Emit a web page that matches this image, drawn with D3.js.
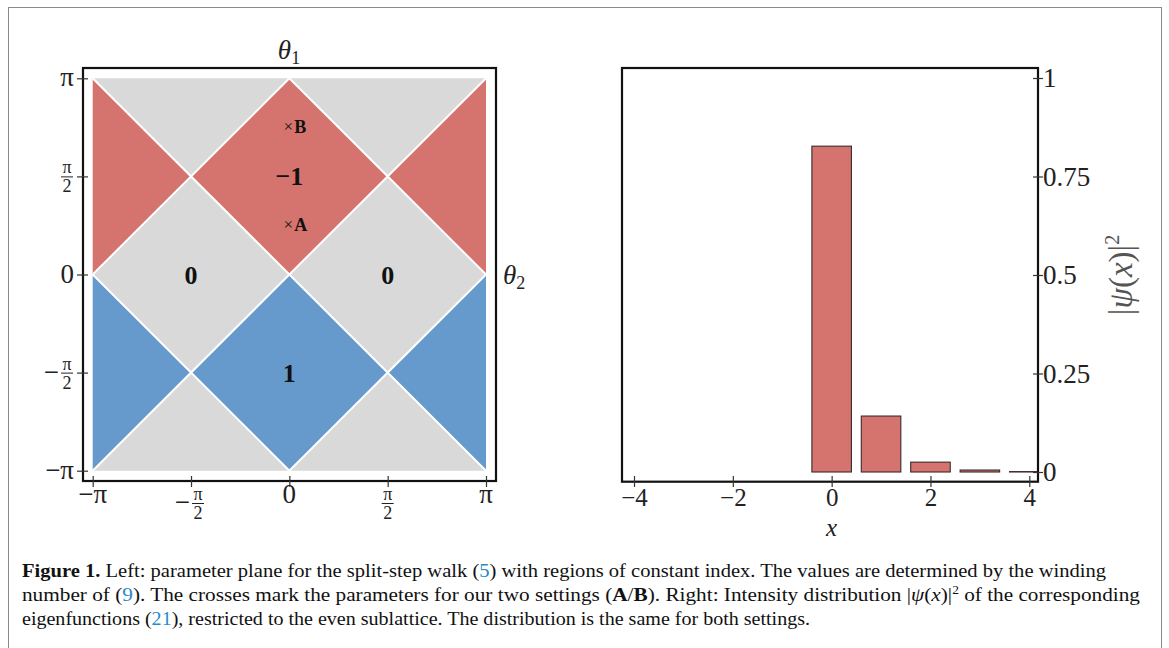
<!DOCTYPE html>
<html>
<head>
<meta charset="utf-8">
<script src="https://cdn.jsdelivr.net/npm/d3@7"></script>
<style>
  body { margin: 0; background: #fff; }
  svg { display: block; font-family: "Liberation Serif", "DejaVu Serif", serif; }
</style>
</head>
<body>
<div id="chart"></div>
<script>
// left panel: regions in units of pi, (theta2, theta1)
const redRegions = [
  [[0, 1], [0.5, 0.5], [0, 0], [-0.5, 0.5]],
  [[-1, 1], [-0.5, 0.5], [-1, 0]],
  [[1, 1], [0.5, 0.5], [1, 0]]
]
const blueRegions = [
  [[0, 0], [0.5, -0.5], [0, -1], [-0.5, -0.5]],
  [[-1, 0], [-0.5, -0.5], [-1, -1]],
  [[1, 0], [0.5, -0.5], [1, -1]]
]
const grayRegions = [
  [[-1, 1], [0, 1], [-0.5, 0.5]],
  [[0, 1], [1, 1], [0.5, 0.5]],
  [[-1, 0], [-0.5, 0.5], [0, 0], [-0.5, -0.5]],
  [[0, 0], [0.5, 0.5], [1, 0], [0.5, -0.5]],
  [[-1, -1], [0, -1], [-0.5, -0.5]],
  [[0, -1], [1, -1], [0.5, -0.5]]
]
const boundaries = [
  [[-1, 1], [1, -1]], [[-1, -1], [1, 1]],
  [[-1, 0], [0, 1]], [[0, 1], [1, 0]],
  [[-1, 0], [0, -1]], [[0, -1], [1, 0]]
]
const indexLabels = [
  {x: -0.5, y: 0, text: "0"},
  {x: 0.5, y: 0, text: "0"},
  {x: 0, y: 0.5, text: "−1"},
  {x: 0, y: -0.5, text: "1"}
]
const settings = [
  {x: 0, y: 0.25, name: "A"},
  {x: 0, y: 0.75, name: "B"}
]
const thetaTicks = [-1, -0.5, 0, 0.5, 1]
const thetaLabels = [["−", "π"], ["−", "π", "2"], ["", "0"], ["", "π", "2"], ["", "π"]]

// right panel: intensity per site
const sites = [0, 1, 2, 3, 4]
const intensity = [0.827, 0.142, 0.025, 0.005, 0.001]
const xTicks = [-4, -2, 0, 2, 4]
const yTicks = [0, 0.25, 0.5, 0.75, 1]

const width = 1169, height = 648
const red = "#d5746f", blue = "#6699cc", gray = "#d9d9d9"
const ink = "#222"

const svg = d3.select("#chart").append("svg")
  .attr("width", width)
  .attr("height", height)

// outer figure border
svg.append("rect")
  .attr("x", 8.5).attr("y", 7.5)
  .attr("width", 1153).attr("height", 660)
  .attr("fill", "none")
  .attr("stroke", "#8a8a8a")

// ---------- left panel ----------
const xL = d3.scaleLinear([-1, 1], [92.7, 486])
const yL = d3.scaleLinear([-1, 1], [470.7, 78.3])
const left = svg.append("g")

const poly = pts => "M" + pts.map(([a, b]) => `${xL(a)},${yL(b)}`).join("L") + "Z"

left.append("g").selectAll("path").data(grayRegions).join("path")
  .attr("d", poly).attr("fill", gray)
left.append("g").selectAll("path").data(redRegions).join("path")
  .attr("d", poly).attr("fill", red)
left.append("g").selectAll("path").data(blueRegions).join("path")
  .attr("d", poly).attr("fill", blue)
left.append("g").selectAll("line").data(boundaries).join("line")
  .attr("x1", d => xL(d[0][0])).attr("y1", d => yL(d[0][1]))
  .attr("x2", d => xL(d[1][0])).attr("y2", d => yL(d[1][1]))
  .attr("stroke", "#fff").attr("stroke-width", 2)

left.append("rect")
  .attr("x", 83).attr("y", 68)
  .attr("width", 413).attr("height", 413)
  .attr("fill", "none").attr("stroke", "#111").attr("stroke-width", 2.2)

// crossing ticks
left.append("g").attr("transform", "translate(0,476)")
  .call(d3.axisBottom(xL).tickValues(thetaTicks).tickSize(11).tickFormat(""))
  .call(g => g.select(".domain").remove())
  .call(g => g.selectAll("line").attr("stroke", "#333").attr("stroke-width", 1.2))
left.append("g").attr("transform", "translate(88,0)")
  .call(d3.axisLeft(yL).tickValues(thetaTicks).tickSize(11).tickFormat(""))
  .call(g => g.select(".domain").remove())
  .call(g => g.selectAll("line").attr("stroke", "#333").attr("stroke-width", 1.2))

// pi labels, fractions stacked as pi over 2
function piLabel(g, lab, cx, cy, anchor) {
  const [sign, num, den] = lab
  if (!den) {
    g.append("text").attr("x", cx).attr("y", cy + 9)
      .attr("text-anchor", anchor).attr("font-size", 27).attr("fill", ink)
      .text(sign + num)
    return
  }
  const fx = cx
  if (sign) g.append("text").attr("x", fx - 8).attr("y", cy + 8)
    .attr("text-anchor", "end").attr("font-size", 27).attr("fill", ink).text(sign)
  g.append("text").attr("x", fx).attr("y", cy - 3)
    .attr("text-anchor", "middle").attr("font-size", 18).attr("fill", ink).text(num)
  g.append("line").attr("x1", fx - 6).attr("x2", fx + 6)
    .attr("y1", cy + 0.5).attr("y2", cy + 0.5).attr("stroke", ink).attr("stroke-width", 1)
  g.append("text").attr("x", fx).attr("y", cy + 16)
    .attr("text-anchor", "middle").attr("font-size", 18).attr("fill", ink).text(den)
}
const bottomLabels = left.append("g")
thetaTicks.forEach((t, i) => {
  const lab = thetaLabels[i]
  if (lab[2]) piLabel(bottomLabels, lab, xL(t) + (lab[0] ? 7 : 0), 503, "middle")
  else piLabel(bottomLabels, lab, xL(t), 494, "middle")
})
const leftLabels = left.append("g")
thetaTicks.forEach((t, i) => {
  const lab = thetaLabels[i]
  if (lab[2]) piLabel(leftLabels, lab, 67, yL(t), "end")
  else piLabel(leftLabels, lab, 74, yL(t) - 1, "end")
})

left.append("g").selectAll("text").data(indexLabels).join("text")
  .attr("x", d => xL(d.x)).attr("y", d => yL(d.y) + 9)
  .attr("text-anchor", "middle").attr("font-weight", "bold")
  .attr("font-size", 26).attr("fill", "#111")
  .text(d => d.text)

const marks = left.append("g").selectAll("g").data(settings).join("g")
  .attr("transform", d => `translate(${xL(d.x)},${yL(d.y)})`)
marks.append("text").attr("x", -1).attr("y", 5).attr("text-anchor", "middle")
  .attr("font-size", 17).attr("fill", "#111").text("×")
marks.append("text").attr("x", 5).attr("y", 6).attr("font-weight", "bold")
  .attr("font-size", 18).attr("fill", "#111").text(d => d.name)

left.append("text").attr("x", 289).attr("y", 59).attr("text-anchor", "middle")
  .attr("font-size", 27).attr("fill", ink)
  .html('<tspan font-style="italic">θ</tspan><tspan font-size="18" dy="5">1</tspan>')
left.append("text").attr("x", 503).attr("y", 284)
  .attr("font-size", 27).attr("fill", ink)
  .html('<tspan font-style="italic">θ</tspan><tspan font-size="18" dy="5">2</tspan>')

// ---------- right panel ----------
const xR = d3.scaleLinear([-4, 4], [634, 1029.3])
const yR = d3.scaleLinear([0, 1], [472, 78])
const right = svg.append("g")

right.append("clipPath").attr("id", "clipR").append("rect")
  .attr("x", 622).attr("y", 68).attr("width", 416).attr("height", 413.7)

right.append("g").attr("clip-path", "url(#clipR)")
  .selectAll("rect").data(sites).join("rect")
  .attr("x", d => xR(d - 0.4))
  .attr("width", xR(0.4) - xR(-0.4))
  .attr("y", (d, i) => yR(intensity[i]))
  .attr("height", (d, i) => yR(0) - yR(intensity[i]))
  .attr("fill", red)
  .attr("stroke", "#3a2a2a").attr("stroke-width", 1.1)

right.append("rect")
  .attr("x", 622).attr("y", 68)
  .attr("width", 416).attr("height", 413.7)
  .attr("fill", "none").attr("stroke", "#111").attr("stroke-width", 2.2)

right.append("g").attr("transform", "translate(0,476)")
  .call(d3.axisBottom(xR).tickValues(xTicks).tickSize(11).tickPadding(1)
    .tickFormat(d => d < 0 ? "−" + Math.abs(d) : String(d)))
  .call(g => g.select(".domain").remove())
  .call(g => g.selectAll("line").attr("stroke", "#333").attr("stroke-width", 1.2))
  .call(g => g.selectAll("text").attr("font-size", 25).attr("fill", ink)
    .attr("font-family", "Liberation Serif"))

right.append("text").attr("x", xR(0)).attr("y", 536).attr("text-anchor", "middle")
  .attr("font-size", 25).attr("font-style", "italic").attr("fill", ink).text("x")

right.append("g").attr("transform", "translate(1033,0)")
  .call(d3.axisRight(yR).tickValues(yTicks).tickSize(10).tickPadding(0)
    .tickFormat(d => String(d)))
  .call(g => g.select(".domain").remove())
  .call(g => g.selectAll("line").attr("stroke", "#333").attr("stroke-width", 1.2))
  .call(g => g.selectAll("text").attr("font-size", 27).attr("fill", ink)
    .attr("font-family", "Liberation Serif"))

right.append("text")
  .attr("transform", `translate(1132,${yR(0.5)}) rotate(-90)`)
  .attr("text-anchor", "middle").attr("font-size", 33).attr("fill", "#555")
  .html('|<tspan font-style="italic">ψ</tspan>(<tspan font-style="italic">x</tspan>)|<tspan font-size="20" dy="-13">2</tspan>')

// ---------- caption ----------
const link = "#2b8ac6"
const caption = svg.append("g").attr("font-size", 19).attr("fill", "#111")
caption.append("text").attr("x", 22).attr("y", 577)
  .attr("textLength", 1084).attr("lengthAdjust", "spacingAndGlyphs")
  .html(`<tspan font-weight="bold">Figure 1.</tspan> Left: parameter plane for the split-step walk (<tspan fill="${link}">5</tspan>) with regions of constant index. The values are determined by the winding`)
caption.append("text").attr("x", 22).attr("y", 601)
  .attr("textLength", 1118).attr("lengthAdjust", "spacingAndGlyphs")
  .html(`number of (<tspan fill="${link}">9</tspan>). The crosses mark the parameters for our two settings (<tspan font-weight="bold">A</tspan>/<tspan font-weight="bold">B</tspan>). Right: Intensity distribution |<tspan font-style="italic">ψ</tspan>(<tspan font-style="italic">x</tspan>)|<tspan font-size="12" dy="-7">2</tspan><tspan dy="7"> of the corresponding</tspan>`)
caption.append("text").attr("x", 22).attr("y", 625)
  .attr("textLength", 788).attr("lengthAdjust", "spacingAndGlyphs")
  .html(`eigenfunctions (<tspan fill="${link}">21</tspan>), restricted to the even sublattice. The distribution is the same for both settings.`)
</script>
</body>
</html>
